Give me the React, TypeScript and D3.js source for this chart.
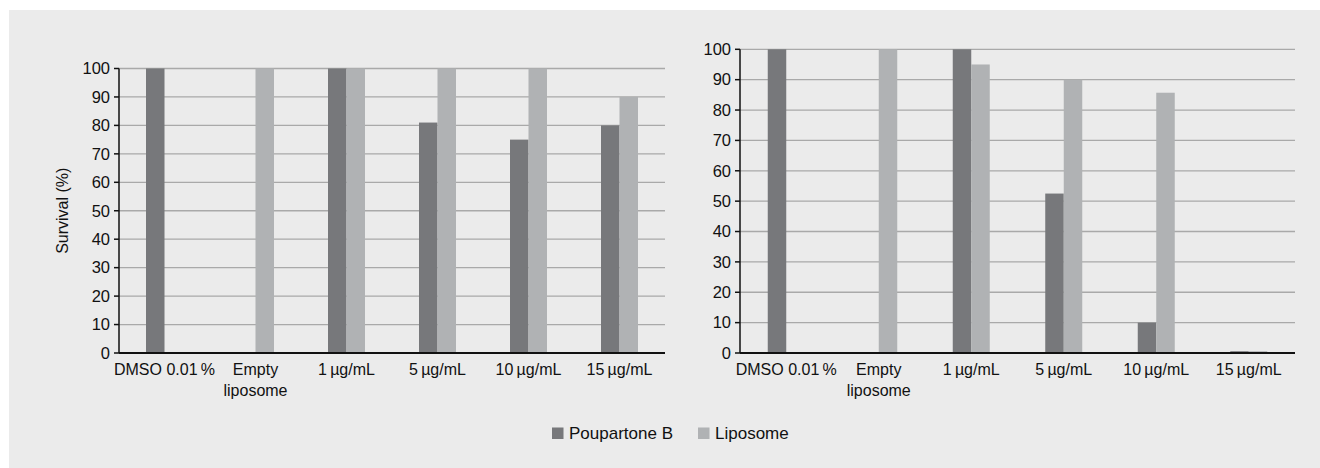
import React from "react";
import * as d3 from "d3";

const categories = ["DMSO 0.01\u2009%", "Empty\nliposome", "1\u2009µg/mL", "5\u2009µg/mL", "10\u2009µg/mL", "15\u2009µg/mL"];
const seriesNames = ["Poupartone B", "Liposome"];
const seriesColors = ["#77787b", "#b0b2b4"];
const leftPoupartone = [100, 0, 100, 81, 75, 80];
const leftLiposome = [0, 100, 100, 100, 100, 90];
const rightPoupartone = [100, 0, 100, 52.5, 10, 0.6];
const rightLiposome = [0, 100, 95, 90, 85.7, 0.6];
const yTicks = [0, 10, 20, 30, 40, 50, 60, 70, 80, 90, 100];

const FONT = "'Liberation Sans', Arial, sans-serif";

function Panel({ x0, x1, yTop, yBottom, data, yLabel }: { x0: number; x1: number; yTop: number; yBottom: number; data: number[][]; yLabel?: string }) {
  const x = d3.scaleBand<string>().domain(categories).range([x0, x1]).padding(0);
  const y = d3.scaleLinear().domain([0, 100]).range([yBottom, yTop]);
  const barW = 18.5;
  const sub = d3.scaleBand<string>().domain(seriesNames).range([-barW, barW]).padding(0);
  return (
    <g>
      {yTicks.filter((t) => t > 0).map((t) => (
        <line key={"g" + t} x1={x0} x2={x1} y1={y(t)} y2={y(t)} stroke="#a9a9a9" strokeWidth={1.3} />
      ))}
      {categories.map((c, i) => {
        const cx = (x(c) as number) + x.bandwidth() / 2;
        return seriesNames.map((s, j) => {
          const v = data[j][i];
          if (!v) return null;
          return (
            <rect key={c + s} x={cx + (sub(s) as number)} width={sub.bandwidth()} y={y(v)} height={y(0) - y(v)} fill={seriesColors[j]} />
          );
        });
      })}
      <line x1={x0} x2={x0} y1={yTop} y2={yBottom} stroke="#111" strokeWidth={1.5} />
      <line x1={x0} x2={x1} y1={yBottom} y2={yBottom} stroke="#111" strokeWidth={2} />
      {yTicks.map((t) => (
        <g key={"t" + t}>
          <line x1={x0 - 5} x2={x0} y1={y(t)} y2={y(t)} stroke="#111" strokeWidth={1.5} />
          <text x={x0 - 9} y={y(t)} dy="0.35em" textAnchor="end" fontSize={16.5} fill="#111" fontFamily={FONT}>{t}</text>
        </g>
      ))}
      {categories.map((c) => {
        const cx = (x(c) as number) + x.bandwidth() / 2;
        const lines = c.split("\n");
        return (
          <text key={"l" + c} x={cx} y={yBottom + 22} textAnchor="middle" fontSize={16} fill="#111" fontFamily={FONT}>
            {lines.map((ln, k) => (
              <tspan key={k} x={cx} dy={k === 0 ? 0 : 21}>{ln}</tspan>
            ))}
          </text>
        );
      })}
      {yLabel && (
        <text transform={`translate(${x0 - 57},${(yTop + yBottom) / 2}) rotate(-90)`} textAnchor="middle" dy="0.35em" fontSize={16} fill="#111" fontFamily={FONT}>{yLabel}</text>
      )}
    </g>
  );
}

export default function App() {
  return (
    <svg width={1320} height={468} style={{ position: "absolute", left: 0, top: 0 }}>
      <rect x={0} y={0} width={1320} height={468} fill="#ffffff" />
      <rect x={9} y={10} width={1311} height={458} fill="#ebebeb" />
      <Panel x0={119} x1={665} yTop={68.5} yBottom={353} data={[leftPoupartone, leftLiposome]} yLabel="Survival (%)" />
      <Panel x0={740} x1={1295} yTop={49.3} yBottom={353} data={[rightPoupartone, rightLiposome]} />
      <g fontFamily={FONT} fontSize={17} fill="#111">
        {seriesNames.map((s, i) => {
          const lx = [552, 698][i];
          return (
            <g key={s}>
              <rect x={lx} y={427.5} width={11.5} height={11.5} fill={seriesColors[i]} />
              <text x={lx + 17} y={439}>{s}</text>
            </g>
          );
        })}
      </g>
    </svg>
  );
}
